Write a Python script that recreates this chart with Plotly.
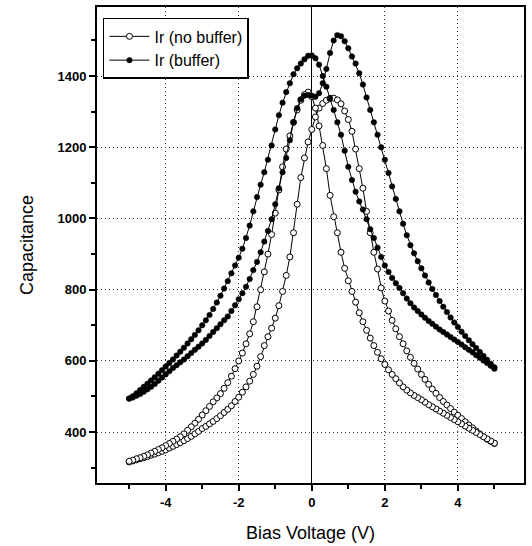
import plotly.graph_objects as go

# Bias voltage grid (V), swept in 0.1 V steps
bias_v = [round(-5 + 0.1 * i, 1) for i in range(101)]

# Ir (no buffer): sweep with peak near +0.6 V (forward, -5 -> +5)
nb_fwd = [316, 319, 322, 325, 328, 331, 335, 338, 342, 346,
          350, 355, 360, 365, 370, 376, 382, 388, 395, 402,
          410, 416, 423, 430, 438, 446, 455, 464, 474, 486,
          498, 512, 527, 543, 562, 585, 612, 643, 668, 692,
          720, 755, 795, 840, 892, 960, 1040, 1115, 1170, 1215,
          1250, 1285, 1310, 1323, 1332, 1337, 1338, 1333, 1322, 1302,
          1278, 1245, 1195, 1140, 1085, 1020, 960, 905, 858, 805,
          768, 740, 714, 690, 668, 648, 628, 610, 593, 577,
          562, 548, 534, 521, 509, 497, 486, 476, 466, 456,
          447, 438, 429, 420, 412, 403, 395, 387, 380, 374,
          368]
# Ir (no buffer): sweep with peak near -0.1 V (reverse, +5 -> -5), listed by bias_v
nb_rev = [318, 321, 325, 328, 332, 336, 341, 346, 351, 356,
          362, 368, 374, 380, 387, 395, 405, 415, 425, 436,
          448, 460, 472, 485, 496, 508, 523, 539, 557, 578,
          600, 622, 648, 676, 710, 752, 800, 850, 900, 955,
          1015, 1080, 1145, 1195, 1232, 1270, 1305, 1332, 1348, 1355,
          1342, 1310, 1260, 1205, 1140, 1065, 1005, 960, 905, 860,
          825, 795, 765, 735, 710, 686, 664, 643, 624, 606,
          590, 575, 562, 550, 538, 527, 518, 510, 503, 497,
          491, 484, 477, 471, 465, 459, 453, 447, 441, 435,
          429, 423, 417, 411, 405, 399, 393, 387, 381, 375,
          369]

# Ir (buffer): forward sweep, peak near +0.7 V
buf_fwd = [494, 497, 502, 507, 513, 520, 527, 535, 544, 553,
           562, 571, 580, 588, 596, 604, 613, 622, 631, 640,
           649, 659, 670, 681, 692, 703, 714, 725, 740, 756,
           773, 790, 808, 830, 855, 878, 905, 935, 965, 998,
           1040, 1085, 1130, 1170, 1220, 1270, 1310, 1335, 1345, 1347,
           1345, 1342, 1352, 1380, 1420, 1465, 1500, 1515, 1512, 1498,
           1478, 1455, 1435, 1408, 1376, 1340, 1305, 1270, 1235, 1200,
           1165, 1128, 1090, 1055, 1020, 985, 953, 925, 902, 880,
           860, 840, 820, 802, 785, 768, 752, 737, 722, 708,
           695, 682, 670, 658, 647, 636, 625, 614, 603, 592,
           582]
# Ir (buffer): reverse sweep, peak near -0.1 V, listed by bias_v
buf_rev = [494, 501, 509, 518, 527, 536, 545, 554, 564, 574,
           584, 594, 604, 615, 626, 637, 649, 661, 673, 686,
           700, 714, 729, 746, 764, 783, 803, 824, 846, 868,
           890, 915, 945, 980, 1020, 1060, 1095, 1130, 1165, 1205,
           1250, 1290, 1325, 1355, 1380, 1405, 1422, 1435, 1447, 1457,
           1458, 1450, 1432, 1400, 1370, 1338, 1305, 1270, 1235, 1190,
           1145, 1108, 1075, 1048, 1025, 998, 970, 945, 918, 892,
           868, 850, 833, 818, 805, 790, 775, 762, 750, 740,
           730, 721, 712, 704, 696, 688, 681, 674, 667, 660,
           653, 646, 638, 631, 624, 616, 609, 601, 594, 586,
           578]

x_tick_vals = [-4, -2, 0, 2, 4]
x_tick_text = ["-4", "-2", "0", "2", "4"]
x_minor_vals = [-5, -3, -1, 1, 3, 5]
y_tick_vals = [400, 600, 800, 1000, 1200, 1400]
y_tick_text = ["400", "600", "800", "1000", "1200", "1400"]
y_minor_vals = [300, 500, 700, 900, 1100, 1300, 1500]

loop_v = bias_v + bias_v[::-1]

fig = go.Figure()
fig.add_trace(go.Scatter(
    x=loop_v, y=nb_fwd + nb_rev[::-1], mode="lines+markers",
    name="Ir (no buffer)",
    line=dict(color="black", width=1),
    marker=dict(symbol="circle", size=6, color="white",
                line=dict(color="black", width=1)),
))
fig.add_trace(go.Scatter(
    x=loop_v, y=buf_fwd + buf_rev[::-1], mode="lines+markers",
    name="Ir (buffer)",
    line=dict(color="black", width=1),
    marker=dict(symbol="circle", size=5.5, color="black",
                line=dict(color="black", width=0.5)),
))

font_family = "Liberation Sans, Arial, sans-serif"
grid_dash = "1px,3px"
fig.update_layout(
    template="none",
    width=532, height=546,
    margin=dict(l=97, r=8, t=7, b=63, autoexpand=False),
    paper_bgcolor="white", plot_bgcolor="white",
    font=dict(family=font_family, color="black"),
    showlegend=True,
    legend=dict(x=0.014, y=0.977, xanchor="left", yanchor="top",
                bgcolor="white", bordercolor="black", borderwidth=1.5,
                font=dict(size=16, family=font_family),
                itemwidth=40, tracegroupgap=0),
    xaxis=dict(
        automargin=False,
        range=[-5.88, 5.81],
        tickmode="array", tickvals=x_tick_vals, ticktext=x_tick_text,
        ticks="outside", ticklen=6, tickwidth=1.5, tickcolor="black",
        tickfont=dict(size=13, family=font_family, weight="bold"),
        minor=dict(tickmode="array", tickvals=x_minor_vals, ticks="outside",
                   ticklen=4, tickwidth=1.5, tickcolor="black", showgrid=False),
        showline=True, linecolor="black", linewidth=1.8, mirror=True,
        showgrid=True, gridcolor="#333", griddash=grid_dash, gridwidth=1,
        zeroline=True, zerolinecolor="black", zerolinewidth=1.4,
        title=dict(text="Bias Voltage (V)", font=dict(size=18, family=font_family),
                   standoff=18),
    ),
    yaxis=dict(
        automargin=False,
        range=[257, 1594],
        tickmode="array", tickvals=y_tick_vals, ticktext=y_tick_text,
        ticks="outside", ticklen=6, tickwidth=1.5, tickcolor="black",
        tickfont=dict(size=13, family=font_family, weight="bold"),
        minor=dict(tickmode="array", tickvals=y_minor_vals, ticks="outside",
                   ticklen=4, tickwidth=1.5, tickcolor="black", showgrid=False),
        showline=True, linecolor="black", linewidth=1.8, mirror=True,
        showgrid=True, gridcolor="#333", griddash=grid_dash, gridwidth=1,
        zeroline=False,
        title=dict(text="Capacitance", font=dict(size=18, family=font_family),
                   standoff=19),
    ),
)

fig.write_html("out.html",
               config={"displayModeBar": False},
               post_script="document.body.style.margin='0';")
